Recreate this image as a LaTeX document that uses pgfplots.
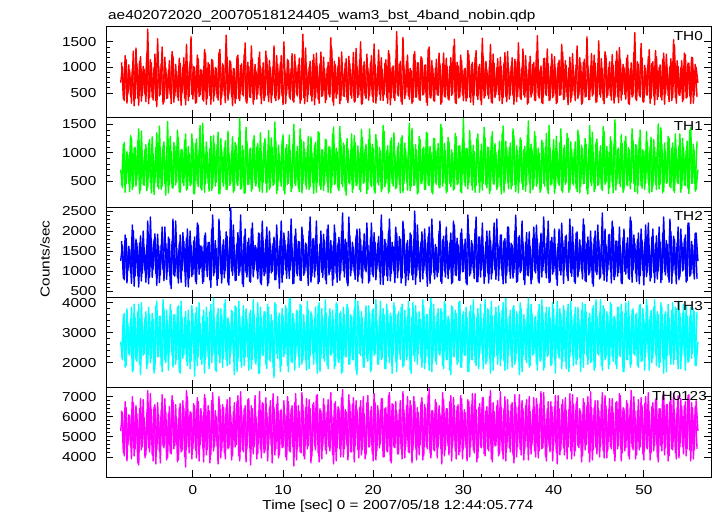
\documentclass[border=0pt]{standalone}
\usepackage{fontspec}
\setmainfont{Liberation Sans}[FakeStretch=1.18]
\usepackage{pgfplots}
\usepackage{pgfplotstable}
\pgfplotsset{compat=1.18}
\definecolor{qred}{RGB}{255,0,0}
\definecolor{qgreen}{RGB}{0,255,0}
\definecolor{qblue}{RGB}{0,0,255}
\definecolor{qcyan}{RGB}{0,255,255}
\definecolor{qmagenta}{RGB}{255,0,255}

\pgfplotstableread{
t a b c d e
-8.0 700 700 1250 2700 5300
-7.8 1010 380 1650 2100 6200
-7.6 350 1180 780 3650 4050
-7.4 1150 450 1820 1900 6450
-7.2 480 960 1020 3300 4600
-7.0 940 310 1540 2250 6050
-6.8 300 1260 690 3850 3900
-6.6 1320 400 2010 1750 6700
-6.4 390 1090 880 3500 4400
-6.2 1070 520 1700 2050 6150
-6.0 260 1420 600 3950 3600
-5.8 1210 340 1880 1600 6900
-5.6 450 1000 950 3350 4500
-5.4 960 420 1580 2300 5950
-5.2 330 1140 720 3700 4100
-5.0 1750 380 2250 1950 7300
-4.8 410 1230 840 3600 4250
-4.6 1090 290 1760 2150 6350
-4.4 360 980 1050 3450 3800
-4.2 1260 470 1930 1800 6600
-4.0 230 1350 640 4050 4350
-3.8 1030 360 1620 2200 6100
-3.6 470 1080 900 3550 3700
-3.4 1400 410 2100 1700 7100
-3.2 320 1190 760 3800 4450
-3.0 990 250 1690 2000 6250
-2.8 400 1550 980 3400 3950
-2.6 1130 430 1800 2350 6500
-2.4 290 1020 560 3750 4150
-2.2 1220 370 2300 1850 6800
-2.0 440 1120 870 3600 4550
-1.8 920 480 1570 2100 5900
-1.6 350 1270 700 3900 3850
-1.4 1080 300 1900 1650 6650
-1.2 500 1060 1000 3500 4300
-1.0 1190 420 1740 2250 6400
-0.8 270 1330 620 3700 3500
-0.6 1050 360 2050 1900 7000
-0.4 430 980 830 3400 4200
-0.2 1600 440 1650 2050 6200
0.0 380 1170 910 3650 4400
0.2 1000 270 1850 1550 6550
0.4 310 1240 680 3850 3950
0.6 1170 400 2150 2200 6750
0.8 460 1480 1060 3300 4600
1.0 940 340 1600 1950 6050
1.2 340 1100 740 3750 3750
1.4 1280 450 1950 2100 6900
1.6 400 1010 860 3500 4350
1.8 1060 320 1720 1800 6300
2.0 280 1290 590 3950 4100
2.2 1140 390 2400 2250 7200
2.4 450 1150 950 3450 4500
2.6 980 480 1560 1700 6000
2.8 360 1360 810 3800 3650
3.0 1350 280 2000 2000 6600
3.2 420 1050 700 3600 4300
3.4 1040 410 1780 2150 6450
3.6 310 1210 1010 4100 3900
3.8 1200 350 1870 1900 6850
4.0 480 990 650 3350 4450
4.2 1110 460 2600 2300 6150
4.4 250 1280 890 3700 4050
4.6 970 330 1640 1600 6700
4.8 390 1130 770 3850 4600
5.0 1240 420 1960 2050 7050
5.2 350 1610 970 3550 3800
5.4 1070 370 1700 1850 6300
5.6 440 1040 610 3900 4250
5.8 1480 290 2050 2200 6550
6.0 300 1200 850 3450 4400
6.2 1020 440 1820 1750 6900
6.4 410 1080 720 3750 3600
6.6 1160 360 2200 2100 6400
6.8 370 1300 1040 3600 4500
7.0 930 410 1590 1950 6000
7.2 470 1160 800 4000 4150
7.4 1300 320 1930 1650 7250
7.6 290 1020 660 3500 3950
7.8 1090 480 1750 2250 6650
8.0 420 1250 930 3700 4300
8.2 1190 300 2100 1800 6200
8.4 330 1390 700 3850 4600
8.6 1000 390 1680 2050 6800
8.8 460 1090 990 3400 3700
9.0 1420 440 1850 1500 6450
9.2 350 1200 780 3950 4400
9.4 1060 340 1620 2150 7000
9.6 400 970 570 3650 4100
9.8 1230 410 2250 1900 6350
10.0 270 1320 900 3550 4500
10.2 950 270 1770 2300 6100
10.4 490 1140 820 3800 3850
10.6 1130 460 1990 1700 6750
10.8 380 1040 1030 4150 4250
11.0 1270 370 1580 2000 6550
11.2 320 1500 690 3450 3550
11.4 1040 420 2050 2200 7150
11.6 440 1110 880 3700 4400
11.8 1180 310 1730 1850 6250
12.0 360 1230 760 3900 4200
12.2 1650 450 1900 2100 6600
12.4 290 1060 950 3350 3900
12.6 990 360 1660 1750 6900
12.8 470 1290 640 3750 4550
13.0 1120 400 2350 2250 6400
13.2 340 990 870 3600 4050
13.4 1250 280 1810 1950 6700
13.6 410 1180 1000 3850 4350
13.8 1010 470 1600 1650 7100
14.0 300 1350 730 4000 3750
14.2 1300 350 2000 2150 6300
14.4 450 1050 840 3500 4500
14.6 970 430 1760 2050 6550
14.8 370 1220 680 3650 4150
15.0 1100 300 2150 1800 6850
15.2 420 1100 990 3800 4300
15.4 1380 390 1650 2300 6100
15.6 260 1450 800 3450 3650
15.8 1050 460 1950 1900 6750
16.0 480 1010 720 3950 4450
16.2 1200 330 1840 2000 6400
16.4 350 1260 960 3700 4000
16.6 930 400 2450 1700 7350
16.8 430 1130 850 3600 4400
17.0 1170 250 1710 2200 6250
17.2 310 1070 630 3850 3850
17.4 1080 450 1890 1950 6650
17.6 400 1330 1020 3550 4250
17.8 1290 370 1600 2100 6950
18.0 340 1180 790 4100 4550
18.2 1020 420 2050 1600 6350
18.4 460 1000 910 3750 3950
18.6 1500 310 1780 2250 6800
18.8 290 1270 700 3500 4350
19.0 1110 480 1930 1850 6150
19.2 390 1150 980 3900 4100
19.4 990 350 1640 2050 7050
19.6 450 1420 750 3650 4500
19.8 1230 400 2200 1750 6500
20.0 320 1080 860 3800 3800
20.2 1060 280 1720 2300 6700
20.4 430 1210 1050 3400 4300
20.6 1340 430 1860 1950 6300
20.8 360 1030 670 4050 4650
21.0 960 360 2000 2150 6900
21.2 470 1380 890 3600 4000
21.4 1150 470 1690 1800 6450
21.6 300 1120 760 3750 4250
21.8 1260 320 2300 2000 7200
22.0 410 1260 940 3550 3700
22.2 1030 410 1610 2250 6600
22.4 350 970 710 3850 4450
22.6 1700 380 1950 1700 6250
22.8 440 1170 1010 3700 4150
23.0 1120 290 1800 2100 6800
23.2 280 1300 820 3950 3900
23.4 1000 450 2050 1900 6350
23.6 460 1060 640 3500 4500
23.8 1240 340 1760 2200 7000
24.0 380 1520 960 3800 4200
24.2 940 400 1900 1650 6550
24.4 330 1140 780 4000 4350
24.6 1310 430 2500 2050 6750
24.8 420 1050 880 3650 3850
25.0 1090 300 1630 2300 6200
25.2 350 1230 730 3450 4600
25.4 1180 460 1980 1850 6950
25.6 470 1100 1000 3900 4050
25.8 1050 350 1700 2000 6450
26.0 260 1340 620 3600 4400
26.2 1400 420 2100 1750 7400
26.4 400 1010 900 4150 3950
26.6 990 270 1830 2150 6300
26.8 340 1250 800 3550 4300
27.0 1160 440 1590 1950 6700
27.2 450 1160 970 3800 4500
27.4 1070 380 2250 2250 6150
27.6 310 1440 690 3700 3650
27.8 1280 470 1870 1800 6850
28.0 420 1040 850 3950 4350
28.2 1010 320 1750 2100 6400
28.4 360 1190 1030 3450 4100
28.6 1190 400 1950 1600 7050
28.8 480 990 720 3850 4550
29.0 1550 360 2150 2200 6550
29.2 290 1280 880 3650 3900
29.4 1040 450 1660 2000 6600
29.6 430 1120 760 4050 4250
29.8 1130 290 2050 1850 6900
30.0 350 1600 990 3700 4400
30.2 980 410 1800 2250 6200
30.4 400 1070 650 3500 3800
30.6 1250 470 1920 1700 6750
30.8 320 1210 940 3900 4500
31.0 1100 340 1680 2100 7150
31.2 460 1020 810 3600 4200
31.4 1330 420 2350 1900 6350
31.6 370 1330 730 3800 3950
31.8 1060 300 1850 2300 6650
32.0 270 1150 1020 3450 4450
32.2 1210 460 1620 1800 6950
32.4 440 1260 860 4100 4050
32.6 950 380 2000 2050 6500
32.8 390 1090 700 3750 4300
33.0 1450 330 1770 1650 7300
33.2 300 1370 950 3550 3750
33.4 1080 440 2200 2200 6250
33.6 470 1010 790 3850 4550
33.8 1170 390 1700 1950 6800
34.0 350 1200 1050 3650 4150
34.2 1020 270 1900 2150 6450
34.4 410 1470 680 4000 3900
34.6 1290 450 1810 1750 7000
34.8 330 1080 900 3500 4400
35.0 990 360 2100 2250 6300
35.2 460 1170 820 3750 4250
35.4 1190 420 1650 1850 6700
35.6 280 1300 960 3900 3700
35.8 1120 310 2400 2050 6550
36.0 430 1040 740 3600 4500
36.2 1050 480 1880 1600 7100
36.4 370 1220 1000 3800 4100
36.6 1360 350 1730 2200 6400
36.8 420 1110 660 3450 4350
37.0 960 430 1960 2000 6850
37.2 310 1560 880 4150 3850
37.4 1220 290 1620 1900 6250
37.6 480 1060 780 3650 4600
37.8 1100 400 2100 2300 6950
38.0 350 1290 950 3550 4000
38.2 1620 460 1800 1750 6600
38.4 400 990 700 3950 4300
38.6 1030 340 1950 2100 7250
38.8 290 1180 1010 3700 4450
39.0 1180 410 1680 1850 6150
39.2 450 1340 830 3850 3800
39.4 1070 280 2250 2250 6750
39.6 360 1090 720 3500 4250
39.8 1260 450 1840 1950 6500
40.0 440 1230 980 3800 4550
40.2 990 370 1600 1650 7050
40.4 320 1020 640 4050 3650
40.6 1140 420 2050 2150 6400
40.8 470 1420 900 3600 4350
41.0 1300 300 1760 2050 6850
41.2 380 1130 1040 3750 4100
41.4 1040 480 1900 1800 6300
41.6 270 1260 760 3950 4500
41.8 1200 350 2300 2200 7150
42.0 410 1050 870 3550 3900
42.2 960 430 1700 1900 6600
42.4 350 1190 690 3850 4300
42.6 1420 310 1980 2100 6950
42.8 460 1310 990 3450 4450
43.0 1090 400 1640 1700 6250
43.2 300 1080 800 4000 4050
43.4 1160 460 2150 2300 6700
43.6 430 1150 730 3700 4600
43.8 1010 270 1850 1950 7000
44.0 370 1480 950 3650 3750
44.2 1270 420 1720 2050 6450
44.4 480 1000 620 3900 4350
44.6 1080 360 2000 1850 6800
44.8 330 1240 910 3550 4150
45.0 1520 440 1780 2250 6350
45.2 420 1120 840 4100 4500
45.4 970 330 2450 1750 7200
45.6 290 1370 770 3800 3950
45.8 1230 470 1660 2150 6550
46.0 450 1030 1000 3600 4300
46.2 1110 380 1920 1950 6900
46.4 360 1200 700 3950 4400
46.6 1040 290 2100 2050 6200
46.8 410 1580 860 3500 3800
47.0 1320 450 1750 1800 6750
47.2 310 1080 960 3850 4550
47.4 1150 400 1610 2200 7050
47.6 470 1160 680 3700 4200
47.8 1000 340 2050 1700 6400
48.0 380 1290 920 4000 4450
48.2 1240 420 1830 2100 6650
48.4 280 1050 790 3550 3900
48.6 1090 480 2250 1950 7300
48.8 440 1220 1020 3800 4350
49.0 1680 310 1690 2250 6300
49.2 350 1130 740 3650 4100
49.4 1060 430 1950 1850 6850
49.6 420 1400 880 3950 4500
49.8 1190 370 1760 2050 6550
50.0 320 1020 650 3450 3850
50.2 980 460 2150 2300 7000
50.4 460 1180 970 3900 4400
50.6 1350 290 1640 1750 6250
50.8 390 1270 830 3750 4200
51.0 1110 410 2050 2150 6700
51.2 270 1090 710 4100 4550
51.4 1210 350 1880 1900 6950
51.6 430 1510 1000 3600 3750
51.8 1050 440 1720 2000 6400
52.0 360 1140 780 3850 4300
52.2 1280 320 2350 1650 7150
52.4 480 1030 900 3700 4450
52.6 990 470 1670 2250 6600
52.8 330 1250 720 3500 4050
53.0 1170 380 1980 1950 6850
53.2 410 1170 950 4000 4350
53.4 1440 300 1800 2100 6300
53.6 300 1060 680 3800 3900
53.8 1020 450 2100 1800 7050
54.0 450 1330 860 3650 4500
54.2 1130 360 1730 2200 6500
54.4 370 1100 1030 3950 4150
54.6 1250 420 1900 1750 6750
54.8 420 1200 760 3550 4400
55.0 1080 280 2200 2050 7100
55.2 290 1450 900 3850 3800
55.4 1190 460 1650 2300 6450
55.6 460 1040 800 3700 4350
55.8 1000 350 1950 1900 6800
56.0 700 700 1250 2700 5300
}\datatable

\pgfplotstableread{
t a b c d e
-7.9 1100 420 1750 2150 6300
-7.7 380 1150 820 3600 4200
-7.5 1230 300 1900 1850 6750
-7.3 300 1020 700 3800 3800
-7.1 1050 460 1620 2300 6100
-6.9 430 1300 960 3450 4500
-6.7 970 350 2150 1700 7000
-6.5 250 1080 620 3950 4050
-6.3 1380 410 1800 2100 6550
-6.1 400 1210 880 3700 3700
-5.9 1120 280 1700 1950 6400
-5.7 340 1380 750 4000 4350
-5.5 1020 440 2000 2250 6850
-5.3 470 1060 1000 3500 3950
-5.1 1270 330 1650 1800 6200
-4.9 290 1170 680 3850 4450
-4.7 1150 470 2350 2000 7150
-4.5 410 1280 840 3650 4100
-4.3 990 260 1780 1650 6500
-4.1 350 1090 940 3900 3650
-3.9 1560 400 1920 2200 6700
-3.7 440 1470 710 3550 4300
-3.5 1080 350 1660 1900 6350
-3.3 280 1120 1030 4100 4550
-3.1 1200 450 2100 2100 6900
-2.9 390 1010 790 3750 3850
-2.7 950 290 1850 1750 6150
-2.5 460 1290 660 3950 4200
-2.3 1310 380 1740 2250 7050
-2.1 320 1180 900 3600 4400
-1.9 1060 430 2250 1950 6600
-1.7 420 1400 840 3850 3750
-1.5 1180 310 1690 1700 6450
-1.3 260 1050 720 4050 4250
-1.1 1000 470 1960 2150 6800
-0.9 400 1220 980 3500 4000
-0.7 1450 340 1820 2050 7300
-0.5 350 1110 600 3750 4500
-0.3 1110 420 2000 1800 6250
-0.1 470 1330 860 3900 3900
0.1 1020 280 1750 2300 6650
0.3 300 1160 740 3650 4350
0.5 1240 450 2200 1900 6950
0.7 430 1040 920 4000 3800
0.9 960 370 1630 2100 6400
1.1 370 1520 690 3550 4450
1.3 1350 300 1880 1650 7100
1.5 280 1190 1010 3850 4100
1.7 1090 460 1710 2200 6550
1.9 450 1070 770 3700 3700
2.1 1160 330 2050 2000 6800
2.3 340 1300 880 4150 4300
2.5 1000 410 1760 1750 6300
2.7 410 1140 640 3600 4550
2.9 1290 270 2300 2250 7000
3.1 270 1250 940 3800 3950
3.3 1070 480 1650 1850 6600
3.5 460 1090 830 3950 4200
3.7 1630 350 1980 2100 6450
3.9 360 1380 700 3500 4400
4.1 1130 420 1830 1950 6950
4.3 430 1030 1000 3750 3850
4.5 980 300 2150 2300 6250
4.7 300 1180 760 3900 4500
4.9 1210 450 1700 1700 6750
5.1 390 1270 890 4050 4050
5.3 1040 360 2400 2050 7250
5.5 470 1120 680 3550 4350
5.7 1260 280 1870 1900 6400
5.9 330 1450 960 3800 3750
6.1 1100 440 1720 2200 6850
6.3 420 1060 740 3650 4450
6.5 1420 320 2050 1800 6550
6.7 280 1230 850 4100 4150
6.9 1060 470 1640 2050 7050
7.1 380 1100 1010 3500 3900
7.3 1190 390 1950 1650 6300
7.5 440 1350 700 3850 4400
7.7 990 300 2250 2250 6700
7.9 350 1170 880 3700 4200
8.1 1320 460 1780 1950 6950
8.3 460 1040 630 3950 3800
8.5 1140 350 2000 2100 6450
8.7 310 1260 950 3600 4550
8.9 1020 420 1690 1850 7150
9.1 400 1540 780 4000 4100
9.3 1230 280 2150 2300 6600
9.5 370 1130 900 3550 3950
9.7 1080 480 1820 1700 6300
9.9 440 1210 720 3800 4450
10.1 1500 330 1950 2200 6800
10.3 290 1080 1020 3900 4000
10.5 1160 440 1660 1900 7000
10.7 420 1310 810 4150 4300
10.9 970 310 2300 2050 6350
11.1 350 1150 680 3650 4500
11.3 1250 460 1870 1750 6700
11.5 470 1020 940 3750 3850
11.7 1050 370 1740 2250 6550
11.9 300 1420 770 3950 4250
12.1 1180 290 2100 1950 7200
12.3 410 1190 890 3600 4050
12.5 1380 430 1700 2100 6450
12.7 330 1070 1000 4050 4400
12.9 1010 350 2000 1800 6850
13.1 450 1280 720 3700 3700
13.3 1140 470 1800 2300 6600
13.5 270 1130 850 3500 4550
13.7 1280 300 2250 2000 7050
13.9 380 1370 680 3900 4200
14.1 1070 410 1680 1700 6400
14.3 430 1050 970 3800 3900
14.5 1200 330 1920 2150 6900
14.7 310 1240 790 4100 4350
14.9 990 480 2050 1900 6250
15.1 460 1110 900 3550 4500
15.3 1580 290 1760 2250 7200
15.5 340 1330 640 3750 4100
15.7 1120 440 2150 1800 6650
15.9 400 1080 930 4000 3800
16.1 1030 360 1700 2050 6500
16.3 290 1460 770 3650 4400
16.5 1300 450 1990 1650 6950
16.7 440 1170 1010 3850 4000
16.9 1090 320 1800 2200 6350
17.1 370 1250 700 3950 4550
17.3 1220 470 2350 1950 7100
17.5 460 1040 880 3600 4250
17.7 960 300 1720 2100 6600
17.9 320 1300 960 3800 3750
18.1 1370 420 1880 1750 6800
18.3 410 1120 740 4050 4350
18.5 1150 350 2050 2300 6450
18.7 280 1410 840 3700 4100
18.9 1040 460 1650 1850 7000
19.1 450 1060 1030 3500 3900
19.3 1260 280 2200 2150 6700
19.5 360 1230 700 3900 4500
19.7 1100 430 1830 1700 6300
19.9 430 1150 920 3750 4150
20.1 1460 340 1960 2250 7150
20.3 300 1320 780 4100 3850
20.5 1010 470 1690 1950 6550
20.7 470 1090 990 3550 4450
20.9 1190 310 2400 2100 6900
21.1 350 1480 660 3800 4000
21.3 1080 400 1790 1800 6400
21.5 420 1030 880 3950 4300
21.7 1330 290 2000 2200 7050
21.9 270 1200 750 3650 3800
22.1 1000 460 1720 1650 6650
22.3 400 1350 1000 4000 4500
22.5 1170 360 2100 2050 6750
22.7 460 1100 830 3600 4150
22.9 1060 440 1860 2300 6350
23.1 330 1260 700 3850 4400
23.3 1590 300 2250 1850 7250
23.5 390 1170 950 3750 3950
23.7 1120 480 1680 2100 6550
23.9 440 1020 780 4050 4250
24.1 980 330 1950 1750 6800
24.3 290 1430 890 3550 3700
24.5 1250 420 1800 2250 7000
24.7 420 1140 670 3900 4450
24.9 1090 270 2150 1950 6450
25.1 370 1290 1020 3700 4100
25.3 1210 450 1730 2150 6700
25.5 460 1070 800 4100 3850
25.7 1040 350 2050 1800 6600
25.9 320 1360 930 3600 4500
26.1 1360 430 1870 2200 7100
26.3 410 1110 690 3850 4200
26.5 1130 300 2300 1700 6300
26.7 350 1250 970 3950 4350
26.9 990 470 1660 2050 6850
27.1 470 1040 850 3650 3950
27.3 1280 380 1990 2300 6550
27.5 280 1500 740 3800 4400
27.7 1070 410 1780 1900 7200
27.9 430 1160 1000 4050 4050
28.1 1180 290 2100 2100 6400
28.3 380 1270 810 3550 4550
28.5 1020 460 1700 1750 6750
28.7 450 1050 680 3900 3800
28.9 1410 340 2250 2200 6950
29.1 310 1340 910 3750 4300
29.3 1100 440 1820 1950 6500
29.5 400 1120 770 4000 4100
29.7 1240 310 1950 1850 7050
29.9 460 1210 980 3600 3900
30.1 970 480 1680 2250 6350
30.3 340 1080 700 3850 4450
30.5 1330 360 2400 1700 6850
30.7 420 1390 880 3700 4000
30.9 1060 420 1760 2100 6600
31.1 270 1130 1020 4100 4350
31.3 1190 300 2050 2000 7150
31.5 440 1250 730 3500 3750
31.7 1010 470 1850 1800 6450
31.9 360 1030 850 3950 4500
32.1 1570 340 2200 2300 6950
32.3 400 1450 690 3650 4150
32.5 1120 430 1730 1950 6300
32.7 460 1100 950 3800 4400
32.9 1050 280 2000 2150 7000
33.1 320 1280 800 4050 3900
33.3 1260 460 1670 1750 6700
33.5 410 1160 1030 3600 4550
33.7 990 350 2300 2250 6550
33.9 470 1040 760 3900 4050
34.1 1200 410 1900 1900 7250
34.3 290 1330 870 3750 4300
34.5 1090 300 1760 2050 6400
34.7 430 1200 700 4150 3800
34.9 1310 470 2100 1800 6850
35.1 380 1090 990 3550 4450
35.3 1030 360 1690 2200 6600
35.5 450 1420 820 3850 4100
35.7 1160 440 2000 1950 7100
35.9 330 1120 720 3700 4000
36.1 1480 290 1840 2300 6450
36.3 400 1260 960 4000 4350
36.5 1000 450 2250 1700 6800
36.7 460 1050 780 3600 3850
36.9 1230 320 1720 2100 6550
37.1 280 1310 900 3800 4500
37.3 1100 480 1980 1850 7000
37.5 420 1150 680 3950 4150
37.7 1060 350 1810 2250 6350
37.9 360 1370 1000 3500 4300
38.1 1290 410 2150 1950 6900
38.3 440 1080 740 3750 3950
38.5 950 300 1700 2050 6650
38.7 310 1220 850 4100 4400
38.9 1170 460 2350 1750 7200
39.1 470 1100 960 3650 4000
39.3 1360 340 1880 2200 6400
39.5 350 1480 710 3850 4550
39.7 1020 430 1750 1900 6750
39.9 410 1040 920 4000 3800
40.1 1210 280 2050 2100 6500
40.3 290 1290 800 3550 4250
40.5 1080 470 1680 2300 7050
40.7 450 1170 1010 3800 4100
40.9 1450 330 2200 1800 6600
41.1 370 1080 690 3900 4450
41.3 1130 440 1860 2050 6950
41.5 430 1340 880 3700 3900
41.7 990 300 1730 1700 6350
41.9 320 1190 960 4050 4300
42.1 1270 460 2100 2250 7100
42.3 460 1060 730 3600 4050
42.5 1050 370 1950 1950 6650
42.7 390 1400 850 3850 4550
42.9 1190 290 1780 2150 6400
43.1 280 1130 1000 3750 3750
43.3 1100 450 2300 1850 6900
43.5 420 1250 760 3950 4350
43.7 1600 330 1700 2200 6550
43.9 370 1070 900 3500 4200
44.1 1030 480 2000 2000 7250
44.3 440 1360 690 3800 3850
44.5 1240 310 1820 1750 6450
44.7 310 1180 970 4100 4450
44.9 1080 420 2150 2300 6800
45.1 470 1020 800 3650 4000
45.3 1170 360 1660 1900 6600
45.5 350 1460 920 3900 4300
45.7 1310 440 2050 2100 7050
45.9 410 1110 740 3700 3950
46.1 1000 280 1900 1800 6350
46.3 450 1280 1030 4000 4500
46.5 1250 470 2250 2200 6900
46.7 300 1150 780 3550 4150
46.9 1120 340 1750 1950 6700
47.1 430 1060 870 3850 4400
47.3 1390 450 2100 2250 7150
47.5 360 1320 700 3950 3800
47.7 1060 300 1830 1700 6450
47.9 470 1200 990 3650 4300
48.1 1180 430 1690 2100 6800
48.3 290 1090 820 4050 4050
48.5 970 360 2350 1850 6550
48.7 420 1420 720 3750 4500
48.9 1290 460 1900 2300 7000
49.1 380 1140 940 3600 3900
49.3 1110 280 1780 1900 6300
49.5 450 1260 680 3900 4350
49.7 1470 420 2050 2050 6950
49.9 330 1050 1010 3800 4150
50.1 1040 350 1720 1750 6650
50.3 460 1370 860 4100 4450
50.5 1210 470 2200 2200 7200
50.7 300 1100 750 3550 3850
50.9 1080 310 1850 2000 6500
51.1 440 1230 960 3850 4300
51.3 1330 440 1680 2300 6850
51.5 370 1060 800 3700 4000
51.7 1000 360 2100 1850 6400
51.9 420 1440 710 4000 4550
52.1 1160 290 1950 2150 7050
52.3 280 1170 990 3600 4100
52.5 1260 460 1760 1700 6600
52.7 450 1290 850 3950 3800
52.9 1020 400 2300 2250 6750
53.1 350 1080 690 3750 4400
53.3 1540 330 1870 1950 7150
53.5 410 1330 930 3850 4200
53.7 1130 480 1700 2100 6450
53.9 460 1120 780 4050 3950
54.1 990 300 2050 1800 6900
54.3 330 1250 1000 3650 4500
54.5 1280 430 1800 2250 6550
54.7 400 1040 720 3900 4050
54.9 1090 370 2200 2000 7050
55.1 440 1400 870 3550 4350
55.3 1200 460 1740 2150 6700
55.5 300 1150 940 3800 3900
55.7 1060 320 1950 1900 6500
55.9 420 1200 800 3700 4400
}\datatableb

\pgfplotsset{panel/.style={
  width=604.5pt, height=90pt, scale only axis,
  anchor=north west,
  xmin=-9.57, xmax=57.45,
  xtick={0,10,20,30,40,50}, minor x tick num=4,
  xticklabels={},
  major tick length=7pt, minor tick length=3.5pt,
  tick style={black, line width=0.8pt},
  axis line style={black, line width=1pt},
  yticklabel style={inner sep=0pt, anchor=east, xshift=-10pt},
  /pgf/number format/assume math mode=true,
  /pgf/number format/set thousands separator={},
  scaled y ticks=false,
  clip mode=individual,
  every axis plot/.append style={line width=1.4pt, line join=round, no markers},
}}

\begin{document}
\fontsize{13}{15}\selectfont
\begin{tikzpicture}
\useasboundingbox (-106.5pt,27pt) rectangle (610.5pt,-489pt);

\begin{axis}[panel, at={(0pt,0pt)}, ymin=30, ymax=1790, ytick={500,1000,1500}, minor y tick num=4]
\addplot[qred] table[x=t,y=a]{\datatable};
\addplot[qred] table[x=t,y=a]{\datatableb};
\node[anchor=north east, inner sep=0pt, xshift=-8pt, yshift=-4.7pt] at (rel axis cs:1,1) {TH0};
\end{axis}

\begin{axis}[panel, at={(0pt,-90pt)}, ymin=41, ymax=1629, ytick={500,1000,1500}, minor y tick num=4]
\addplot[qgreen] table[x=t,y=b]{\datatable};
\addplot[qgreen] table[x=t,y=b]{\datatableb};
\node[anchor=north east, inner sep=0pt, xshift=-8pt, yshift=-4.7pt] at (rel axis cs:1,1) {TH1};
\end{axis}

\begin{axis}[panel, at={(0pt,-180pt)}, ymin=350, ymax=2600, ytick={500,1000,1500,2000,2500}, minor y tick num=4]
\addplot[qblue] table[x=t,y=c]{\datatable};
\addplot[qblue] table[x=t,y=c]{\datatableb};
\node[anchor=north east, inner sep=0pt, xshift=-8pt, yshift=-4.7pt] at (rel axis cs:1,1) {TH2};
\end{axis}

\begin{axis}[panel, at={(0pt,-270pt)}, ymin=1190, ymax=4190, ytick={2000,3000,4000}, minor y tick num=4]
\addplot[qcyan] table[x=t,y=d]{\datatable};
\addplot[qcyan] table[x=t,y=d]{\datatableb};
\node[anchor=north east, inner sep=0pt, xshift=-8pt, yshift=-4.7pt] at (rel axis cs:1,1) {TH3};
\end{axis}

\begin{axis}[panel, at={(0pt,-360pt)}, ymin=3000, ymax=7480, ytick={4000,5000,6000,7000}, minor y tick num=4,
  xticklabels={0,10,20,30,40,50},
  xticklabel style={inner sep=0pt, anchor=north, yshift=-8pt}]
\addplot[qmagenta] table[x=t,y=e]{\datatable};
\addplot[qmagenta] table[x=t,y=e]{\datatableb};
\node[anchor=north east, inner sep=0pt, xshift=-4pt, yshift=-4.7pt] at (rel axis cs:1,1) {TH0123};
\end{axis}

\node[anchor=base west, inner sep=0pt] at (1.5pt,7.7pt) {ae402072020\_20070518124405\_wam3\_bst\_4band\_nobin.qdp};
\node[rotate=90, anchor=center, inner sep=0pt] at (-61.5pt,-232pt) {Counts/sec};
\node[anchor=base, inner sep=0pt] at (291.5pt,-482.3pt) {Time [sec] 0 = 2007/05/18 12:44:05.774};
\end{tikzpicture}
\end{document}
